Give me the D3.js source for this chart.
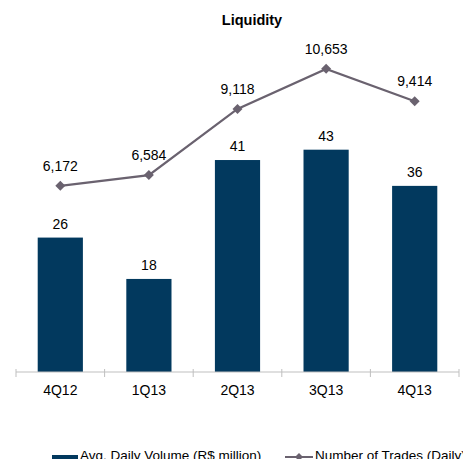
<!DOCTYPE html>
<html>
<head>
<meta charset="utf-8">
<script src="https://cdn.jsdelivr.net/npm/d3@7"></script>
<style>
  html, body { margin: 0; padding: 0; background: #fff; }
  svg { display: block; font-family: "Liberation Sans", Arial, sans-serif; }
</style>
</head>
<body>
<div id="chart"></div>
<script>
// Quarterly liquidity figures
const quarters = ["4Q12", "1Q13", "2Q13", "3Q13", "4Q13"];
const avgDailyVolume = [26, 18, 41, 43, 36];          // R$ million
const numberOfTrades = [6172, 6584, 9118, 10653, 9414]; // daily
const seriesNames = ["Avg. Daily Volume (R$ million)", "Number of Trades (Daily)"];

const W = 463, H = 459;
const barColor = "#02395e";
const lineColor = "#6a626f";
const axisColor = "#bfbfbf";
const fs = 14;

const svg = d3.select("#chart").append("svg")
  .attr("width", W).attr("height", H);

const x = d3.scaleBand().domain(quarters).range([16, 459]).paddingInner(0.49).paddingOuter(0.245);
const xCenter = d => x(d) + x.bandwidth() / 2;

const yBar = d3.scaleLinear().domain([0, 50]).range([372, 113.5]);
const yLine = d3.scaleLinear().domain([0, 12000]).range([347, 33.7]);

// title
svg.append("text")
  .attr("x", 252).attr("y", 25)
  .attr("text-anchor", "middle")
  .attr("font-size", 14.5).attr("font-weight", "bold")
  .attr("fill", "#000")
  .text("Liquidity");

// bars
svg.append("g").selectAll("rect").data(quarters).join("rect")
  .attr("x", d => x(d))
  .attr("width", x.bandwidth())
  .attr("y", (d, i) => yBar(avgDailyVolume[i]))
  .attr("height", (d, i) => yBar(0) - yBar(avgDailyVolume[i]))
  .attr("fill", barColor);

// bar value labels
svg.append("g").selectAll("text").data(quarters).join("text")
  .attr("x", d => xCenter(d))
  .attr("y", (d, i) => yBar(avgDailyVolume[i]) - 9)
  .attr("text-anchor", "middle")
  .attr("font-size", fs).attr("fill", "#000")
  .text((d, i) => avgDailyVolume[i]);

// x axis
const xAxisG = svg.append("g");
xAxisG.append("line")
  .attr("x1", 16).attr("x2", 459).attr("y1", 372).attr("y2", 372)
  .attr("stroke", axisColor).attr("stroke-width", 1);
const tickPos = quarters.map(q => x(q) - x.step() * x.paddingInner() / 2);
tickPos.push(459);
xAxisG.selectAll("line.tick").data(tickPos).join("line")
  .attr("class", "tick")
  .attr("x1", d => d).attr("x2", d => d)
  .attr("y1", 369).attr("y2", 377)
  .attr("stroke", axisColor).attr("stroke-width", 1);
xAxisG.selectAll("text").data(quarters).join("text")
  .attr("x", d => xCenter(d))
  .attr("y", 395)
  .attr("text-anchor", "middle")
  .attr("font-size", fs).attr("fill", "#000")
  .text(d => d);

// trades line
const line = d3.line()
  .x((d, i) => xCenter(quarters[i]))
  .y(d => yLine(d));
svg.append("path")
  .datum(numberOfTrades)
  .attr("d", line)
  .attr("fill", "none")
  .attr("stroke", lineColor)
  .attr("stroke-width", 2.3);

const diamond = d3.symbol().type(d3.symbolSquare).size(50);
svg.append("g").selectAll("path").data(numberOfTrades).join("path")
  .attr("d", diamond)
  .attr("transform", (d, i) => `translate(${xCenter(quarters[i])},${yLine(d)}) rotate(45)`)
  .attr("fill", lineColor);

svg.append("g").selectAll("text").data(numberOfTrades).join("text")
  .attr("x", (d, i) => xCenter(quarters[i]))
  .attr("y", d => yLine(d) - 15)
  .attr("text-anchor", "middle")
  .attr("font-size", fs).attr("fill", "#000")
  .text(d => d3.format(",")(d));

// legend
const legendFs = 13.5;
const legend = svg.append("g");
legend.append("rect")
  .attr("x", 52).attr("y", 455).attr("width", 26).attr("height", 4.5)
  .attr("fill", barColor);
legend.append("text")
  .attr("x", 80).attr("y", 460)
  .attr("font-size", legendFs).attr("fill", "#000")
  .text(seriesNames[0]);
legend.append("line")
  .attr("x1", 285).attr("x2", 313).attr("y1", 457).attr("y2", 457)
  .attr("stroke", lineColor).attr("stroke-width", 2);
legend.append("path")
  .attr("d", d3.symbol().type(d3.symbolSquare).size(32))
  .attr("transform", "translate(299,457) rotate(45)")
  .attr("fill", lineColor);
legend.append("text")
  .attr("x", 315).attr("y", 460)
  .attr("font-size", legendFs).attr("fill", "#000")
  .text(seriesNames[1]);
</script>
</body>
</html>
